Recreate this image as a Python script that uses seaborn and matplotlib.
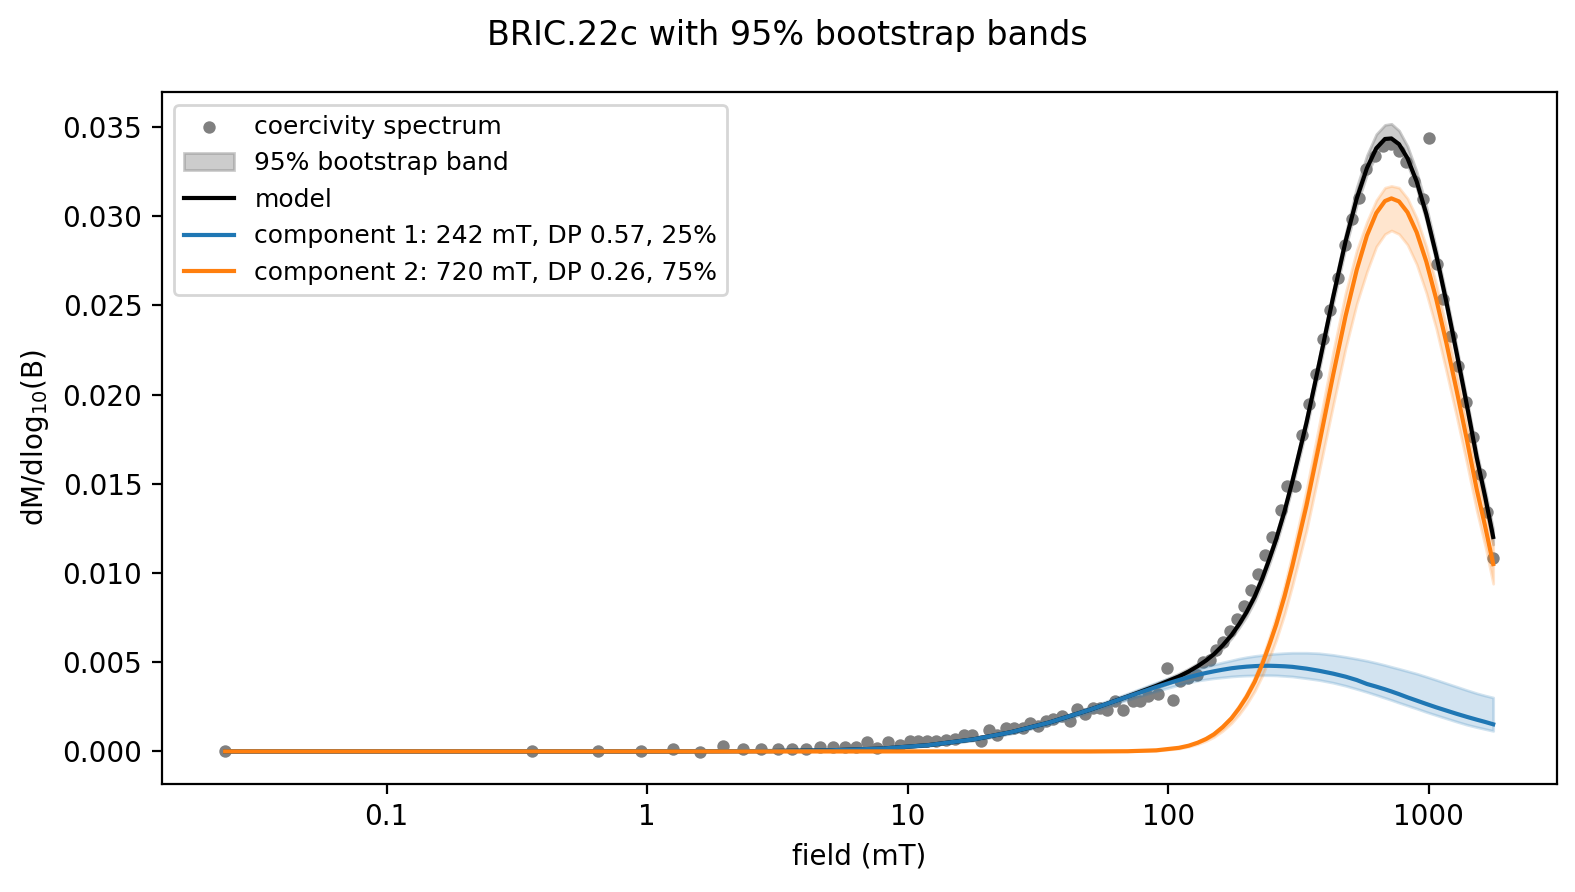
import numpy as np
import pandas as pd
import seaborn as sns
import matplotlib.pyplot as plt
from matplotlib.ticker import FuncFormatter, NullLocator

# measured coercivity spectrum (field in mT, dM/dlog10 B)
field_pts = [0.024, 0.363, 0.650, 0.948, 1.26, 1.60, 1.96, 2.34, 2.74, 3.17, 3.60, 4.08,
             4.61, 5.19, 5.75, 6.34, 7.01, 7.66, 8.44, 9.36, 10.2, 11.0, 11.9, 12.9, 14.1,
             15.2, 16.4, 17.7, 19.1, 20.6, 22.1, 23.9, 25.6, 27.7, 29.5, 31.8, 34.0, 36.3,
             39.1, 42.0, 44.9, 48.0, 51.7, 54.8, 58.2, 62.6, 67.4, 73.6, 78.1, 84.0, 91.8,
             98.9, 104.8, 111.2, 119.6, 128.9, 136.7, 145, 152.9, 163, 173, 184, 196, 208,
             221, 236, 250, 272, 286, 307, 328, 349, 370, 395, 417, 451, 478, 509, 542, 575,
             621, 666, 718, 771, 820, 876, 948, 1007, 1075, 1140, 1224, 1301, 1393, 1486,
             1577, 1682, 1770]
spec_pts = [0.0, 0.00004, 0.00003, 0.00002, 0.00013, -0.00004, 0.00028, 0.00013, 0.00013,
            0.00013, 0.00013, 0.00015, 0.00024, 0.00026, 0.00026, 0.00026, 0.0005, 0.00019,
            0.0005, 0.00037, 0.00056, 0.00058, 0.00058, 0.00056, 0.00065, 0.00069, 0.0009,
            0.00093, 0.0006, 0.0012, 0.0009, 0.0013, 0.0013, 0.0013, 0.0016, 0.0014, 0.0017,
            0.0018, 0.0020, 0.0017, 0.0024, 0.0021, 0.00243, 0.00243, 0.00233, 0.0028,
            0.00233, 0.0028, 0.0028, 0.0031, 0.0032, 0.00467, 0.0029, 0.00396, 0.0041,
            0.00431, 0.00499, 0.0051, 0.00569, 0.00615, 0.00673, 0.00742, 0.00817, 0.00904,
            0.00992, 0.011, 0.01203, 0.01352, 0.0149, 0.0149, 0.01775, 0.01947, 0.02116,
            0.0231, 0.02475, 0.02652, 0.02839, 0.02983, 0.03104, 0.03267, 0.0334, 0.03391,
            0.03407, 0.03365, 0.03304, 0.03197, 0.03095, 0.0344, 0.02732, 0.02536, 0.0233,
            0.02163, 0.01958, 0.01762, 0.01557, 0.01343, 0.01082]

# fitted curves read at these fields (mT)
field_fit = [0.024, 1, 3, 5, 8, 12, 18, 25, 35, 50, 70, 90, 110, 120, 130, 140, 150, 162,
             175, 187, 200, 215, 230, 245, 260, 280, 300, 340, 380, 430, 480, 530, 580, 630,
             680, 720, 770, 830, 900, 980, 1070, 1170, 1280, 1400, 1530, 1650, 1770]

model = [0, 0, 0.00002, 0.00006, 0.00016, 0.00035, 0.00068, 0.00108, 0.00162, 0.00233,
         0.00308, 0.00367, 0.0042, 0.00448, 0.00478, 0.0051, 0.00545, 0.00594, 0.00651,
         0.00711, 0.0078, 0.00868, 0.0097, 0.0108, 0.0119, 0.01347, 0.01514, 0.01844,
         0.02172, 0.02546, 0.02859, 0.031, 0.0327, 0.03381, 0.03433, 0.03436, 0.03404,
         0.03325, 0.03195, 0.03012, 0.02783, 0.0252, 0.02238, 0.01948, 0.01648, 0.01425,
         0.01202]
model_lo = [0, 0, 0.00001, 0.00005, 0.00014, 0.00032, 0.00063, 0.00102, 0.00155, 0.00224,
            0.00296, 0.00353, 0.00404, 0.00432, 0.00462, 0.00494, 0.00529, 0.00577, 0.00634,
            0.00692, 0.00756, 0.00843, 0.00944, 0.01053, 0.01163, 0.01319, 0.01484, 0.01811,
            0.02138, 0.0251, 0.02822, 0.03063, 0.03234, 0.03346, 0.03399, 0.03402, 0.0337,
            0.0329, 0.03159, 0.02975, 0.02746, 0.02483, 0.02201, 0.01911, 0.01611, 0.01385,
            0.0116]
model_hi = [0, 0, 0.00003, 0.00007, 0.00018, 0.00038, 0.00073, 0.00114, 0.00169, 0.00242,
            0.0032, 0.00381, 0.00436, 0.00464, 0.00494, 0.00526, 0.00561, 0.00611, 0.00668,
            0.0073, 0.00804, 0.00893, 0.00996, 0.01107, 0.01218, 0.01376, 0.01545, 0.01878,
            0.02208, 0.02584, 0.02902, 0.03163, 0.03342, 0.0346, 0.03512, 0.03518, 0.0348,
            0.03392, 0.0325, 0.03056, 0.02819, 0.02554, 0.02271, 0.0198, 0.01681, 0.01462,
            0.01245]

comp1 = [0, 0, 0.00002, 0.00006, 0.00016, 0.00035, 0.00068, 0.00108, 0.00162, 0.00233,
         0.00307, 0.00361, 0.004, 0.00416, 0.00429, 0.0044, 0.00449, 0.00458, 0.00466,
         0.00471, 0.00475, 0.00478, 0.0048, 0.0048, 0.00479, 0.00477, 0.00474, 0.00464,
         0.00452, 0.00436, 0.00419, 0.004, 0.00378, 0.00363, 0.00348, 0.00336, 0.00321,
         0.00303, 0.00285, 0.00266, 0.00247, 0.00229, 0.00211, 0.00194, 0.00178, 0.00165,
         0.00152]
comp1_lo = [0, 0, 0.00002, 0.00005, 0.00014, 0.00032, 0.00062, 0.001, 0.00152, 0.0022,
            0.0029, 0.00338, 0.00373, 0.00386, 0.00397, 0.00404, 0.0041, 0.00415, 0.0042,
            0.00423, 0.00425, 0.00426, 0.00427, 0.00427, 0.00426, 0.00423, 0.0042, 0.0041,
            0.004, 0.00385, 0.00368, 0.0035, 0.00333, 0.00316, 0.003, 0.00288, 0.00273,
            0.00257, 0.0024, 0.00221, 0.00203, 0.00185, 0.00167, 0.0015, 0.00136, 0.00125,
            0.00115]
comp1_hi = [0, 0, 0.00002, 0.00007, 0.00018, 0.00038, 0.00072, 0.00115, 0.00172, 0.00247,
            0.00325, 0.00385, 0.00428, 0.00446, 0.00462, 0.00475, 0.00487, 0.00499, 0.0051,
            0.0052, 0.00528, 0.00535, 0.0054, 0.00545, 0.00548, 0.00551, 0.00553, 0.00553,
            0.0055, 0.00541, 0.0053, 0.00519, 0.00508, 0.00496, 0.00484, 0.00474, 0.00463,
            0.0045, 0.00436, 0.00419, 0.00401, 0.00382, 0.00363, 0.00344, 0.00326, 0.00313,
            0.00302]

comp2 = [0, 0, 0, 0, 0, 0, 0, 0, 0, 0, 0.00001, 0.00006, 0.0002, 0.00032, 0.00049, 0.0007,
         0.00096, 0.00136, 0.00185, 0.0024, 0.00305, 0.0039, 0.0049, 0.006, 0.0071, 0.0087,
         0.0104, 0.0138, 0.0172, 0.0211, 0.0244, 0.027, 0.02892, 0.03018, 0.03085, 0.031,
         0.03083, 0.03022, 0.0291, 0.02746, 0.02536, 0.02291, 0.02027, 0.01754, 0.0147,
         0.0126, 0.0105]
comp2_lo = [0, 0, 0, 0, 0, 0, 0, 0, 0, 0, 0.00001, 0.00004, 0.00016, 0.00027, 0.00041,
            0.00059, 0.00081, 0.00115, 0.00158, 0.00206, 0.00263, 0.00338, 0.00425, 0.00524,
            0.00625, 0.0077, 0.0093, 0.0124, 0.0157, 0.0194, 0.0226, 0.0251, 0.0269, 0.0283,
            0.029, 0.0292, 0.029, 0.0284, 0.0273, 0.0257, 0.0237, 0.0213, 0.0188, 0.0162,
            0.0135, 0.0115, 0.0094]
comp2_hi = [0, 0, 0, 0, 0, 0, 0, 0, 0, 0, 0.00002, 0.00008, 0.00022, 0.00035, 0.00053,
            0.00076, 0.00104, 0.00146, 0.00198, 0.00257, 0.00326, 0.00417, 0.00524, 0.00642,
            0.0076, 0.0093, 0.0111, 0.0147, 0.0183, 0.0224, 0.0257, 0.0281, 0.0297, 0.0309,
            0.0316, 0.0317, 0.0316, 0.031, 0.0299, 0.0283, 0.0262, 0.0238, 0.0212, 0.0185,
            0.0157, 0.0136, 0.0116]

labels = ['coercivity spectrum', '95% bootstrap band', 'model',
          'component 1: 242 mT, DP 0.57, 25%', 'component 2: 720 mT, DP 0.26, 75%']

spec = pd.DataFrame({'field': field_pts, 'dM': spec_pts})
fit = pd.DataFrame({'field': field_fit, 'model': model, 'c1': comp1, 'c2': comp2})

fig = plt.figure(figsize=(7.875, 4.46), dpi=200)
ax = fig.add_axes([0.1027, 0.1216, 0.8856, 0.7748])

pts = ax.scatter(spec['field'], spec['dM'], s=20, color='gray', linewidths=0, zorder=1)

band = ax.fill_between(field_fit, model_lo, model_hi, color='gray', alpha=0.4)
ax.fill_between(field_fit, comp1_lo, comp1_hi, color='C0', alpha=0.2)
ax.fill_between(field_fit, comp2_lo, comp2_hi, color='C1', alpha=0.2)

sns.lineplot(data=fit, x='field', y='model', color='black', ax=ax)
sns.lineplot(data=fit, x='field', y='c1', color='C0', ax=ax)
sns.lineplot(data=fit, x='field', y='c2', color='C1', ax=ax)
lines = ax.get_lines()

ax.set_xscale('log')
ax.xaxis.set_minor_locator(NullLocator())
ax.xaxis.set_major_formatter(FuncFormatter(lambda v, _: f'{v:g}'))
ax.set_xlabel('field (mT)')
ax.set_ylabel(r'dM/dlog$_{10}$(B)')

ax.legend([pts, band, lines[0], lines[1], lines[2]], labels, loc='upper left', fontsize=9)
fig.suptitle('BRIC.22c with 95% bootstrap bands', y=0.9605, va='center')

fig.savefig('out.png', dpi=200)
